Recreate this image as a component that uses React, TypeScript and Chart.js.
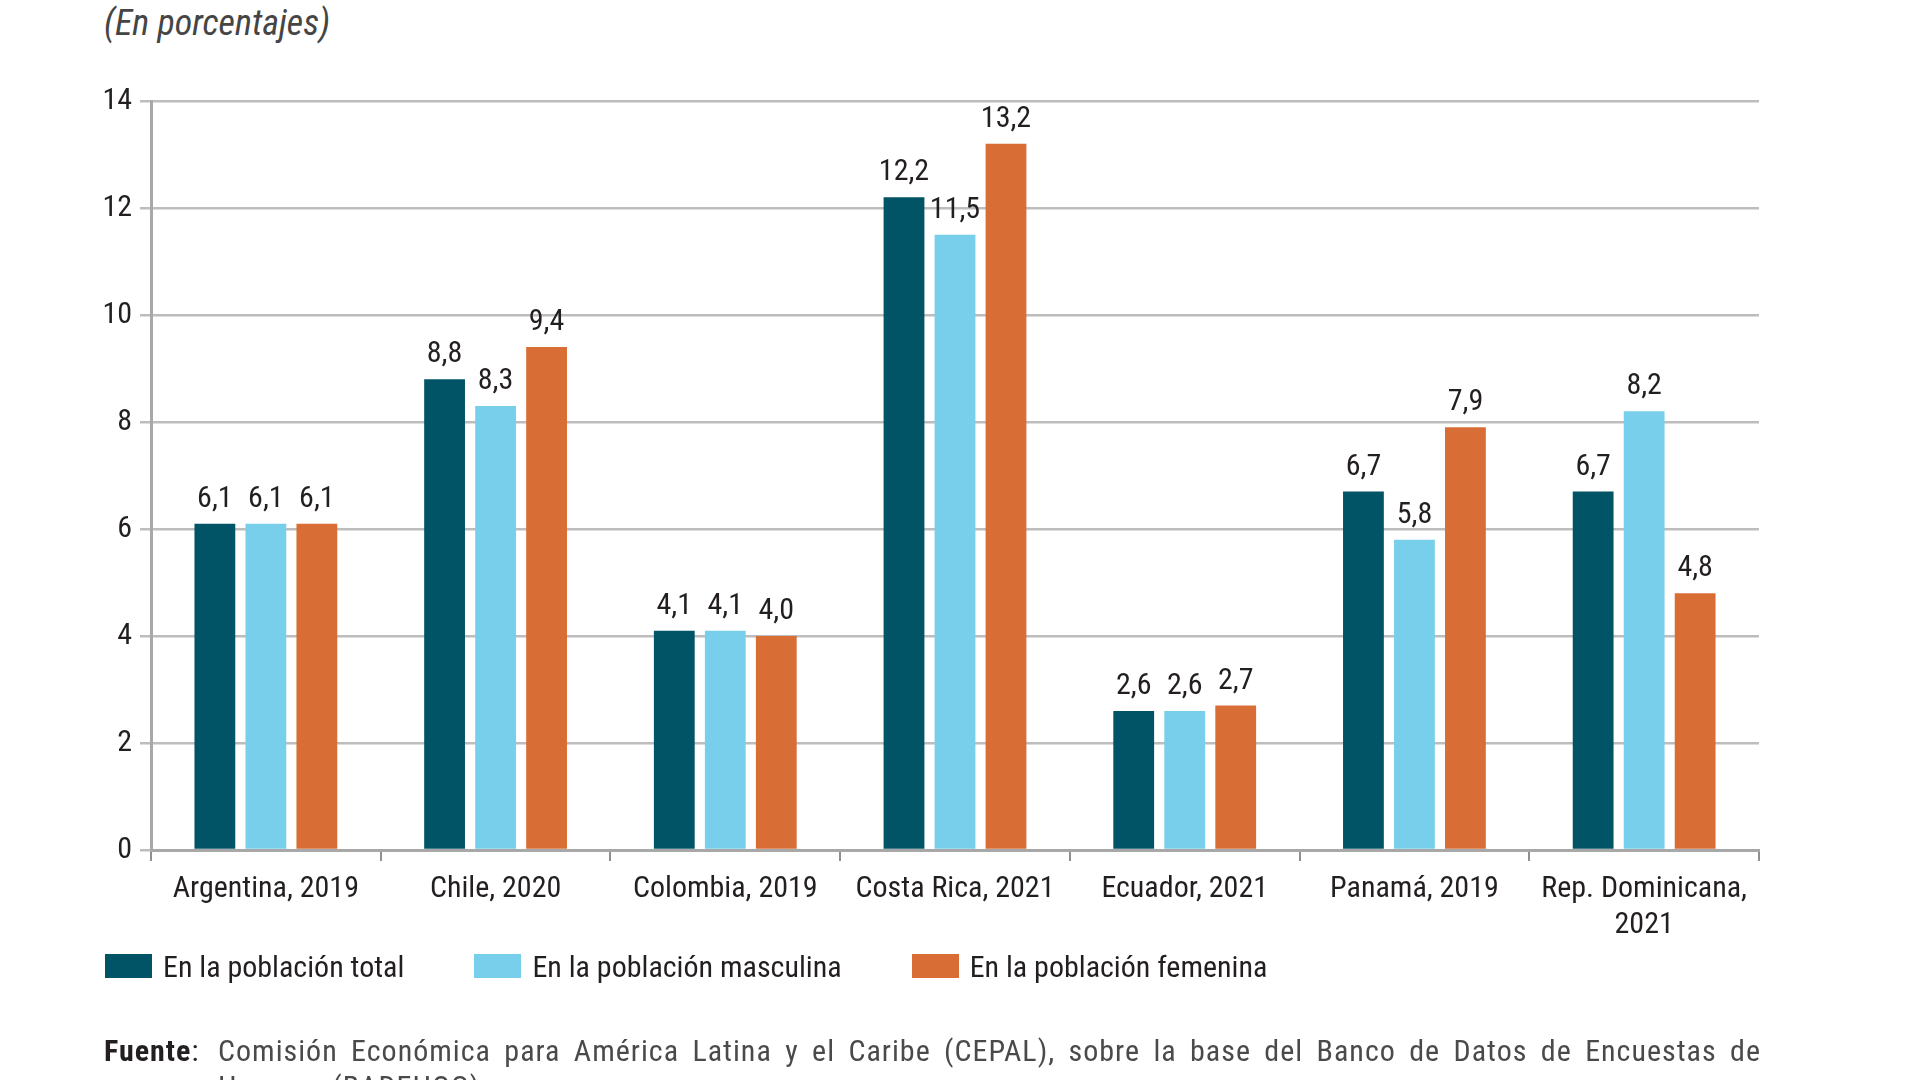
import React, { useEffect, useRef } from "react";
import { Chart, registerables } from "chart.js";

Chart.register(...registerables);

const FONT = "'Roboto Condensed', 'DejaVu Sans Condensed', sans-serif";
const TEXT = "#231F20";

const categories: (string | string[])[] = [
  "Argentina, 2019",
  "Chile, 2020",
  "Colombia, 2019",
  "Costa Rica, 2021",
  "Ecuador, 2021",
  "Panamá, 2019",
  ["Rep. Dominicana,", "2021"],
];

const seriesNames = [
  "En la población total",
  "En la población masculina",
  "En la población femenina",
];

const totalValues = [6.1, 8.8, 4.1, 12.2, 2.6, 6.7, 6.7];
const maleValues = [6.1, 8.3, 4.1, 11.5, 2.6, 5.8, 8.2];
const femaleValues = [6.1, 9.4, 4.0, 13.2, 2.7, 7.9, 4.8];

const seriesColors = ["#005465", "#78CFEC", "#D86E35"];

const yTicks = [0, 2, 4, 6, 8, 10, 12, 14];

const titleText = "(En porcentajes)";
const sourceLabel = "Fuente";
const sourceLine1 =
  "Comisión Económica para América Latina y el Caribe (CEPAL), sobre la base del Banco de Datos de Encuestas de";
const sourceLine2 = "Hogares (BADEHOG).";

const valueLabelPlugin = {
  id: "valueLabels",
  afterDatasetsDraw(chart: any) {
    const ctx = chart.ctx;
    ctx.save();
    ctx.font = `30px ${FONT}`;
    ctx.fillStyle = TEXT;
    ctx.textAlign = "center";
    ctx.textBaseline = "alphabetic";
    chart.data.datasets.forEach((ds: any, i: number) => {
      const meta = chart.getDatasetMeta(i);
      meta.data.forEach((el: any, j: number) => {
        const v = ds.data[j] as number;
        ctx.fillText(v.toFixed(1).replace(".", ","), el.x, el.y - 17);
      });
    });
    ctx.restore();
  },
};

export default function App() {
  const canvasRef = useRef<HTMLCanvasElement | null>(null);

  useEffect(() => {
    if (!canvasRef.current) return;
    Chart.defaults.font.family = FONT;
    const chart = new Chart(canvasRef.current, {
      type: "bar",
      data: {
        labels: categories,
        datasets: [totalValues, maleValues, femaleValues].map((d, i) => ({
          label: seriesNames[i],
          data: d,
          backgroundColor: seriesColors[i],
          borderWidth: 0,
          categoryPercentage: 0.666,
          barPercentage: 0.8,
        })),
      },
      options: {
        responsive: false,
        animation: false,
        devicePixelRatio: 1,
        layout: { padding: { left: 37, top: 101, right: 161, bottom: 130 } },
        plugins: {
          tooltip: { enabled: false },
          title: { display: false },
          legend: { display: false },
        },
        scales: {
          x: {
            offset: true,
            grid: {
              display: true,
              drawOnChartArea: false,
              drawTicks: true,
              tickLength: 11,
              color: "#8f8f8f",
              lineWidth: 2,
              offset: true,
            },
            border: { display: true, color: "#a8a8a8", width: 3 },
            ticks: {
              color: TEXT,
              font: { size: 30, family: FONT },
              padding: 10,
              maxRotation: 0,
              autoSkip: false,
            },
            afterFit(scale: any) {
              scale.height = 100;
            },
          },
          y: {
            min: yTicks[0],
            max: yTicks[yTicks.length - 1],
            afterBuildTicks(scale: any) {
              scale.ticks = yTicks.map((v) => ({ value: v }));
            },
            grid: {
              color: "#bdbdbd",
              lineWidth: 2.5,
              tickLength: 11,
              drawTicks: true,
            },
            border: { display: true, color: "#a8a8a8", width: 3 },
            ticks: {
              color: TEXT,
              font: { size: 30, family: FONT },
              padding: 8,
            },
            afterFit(scale: any) {
              scale.width = 114;
            },
          },
        },
      },
      plugins: [valueLabelPlugin],
    });
    return () => chart.destroy();
  }, []);

  return (
    <div
      style={{
        position: "absolute",
        left: 0,
        top: 0,
        width: 1920,
        height: 1080,
        overflow: "hidden",
        background: "#ffffff",
        fontFamily: FONT,
      }}
    >
      <div
        style={{
          position: "absolute",
          left: 104,
          top: 5,
          fontSize: 36,
          lineHeight: "36px",
          fontStyle: "italic",
          color: "#454545",
          whiteSpace: "nowrap",
        }}
      >
        {titleText}
      </div>
      <canvas
        ref={canvasRef}
        width={1920}
        height={1080}
        style={{ position: "absolute", left: 0, top: 0, width: 1920, height: 1080 }}
      />
      <div
        style={{
          position: "absolute",
          left: 105,
          top: 948,
          height: 36,
          display: "flex",
          alignItems: "center",
          fontSize: 30,
          color: TEXT,
          whiteSpace: "nowrap",
        }}
      >
        {seriesNames.map((name, i) => (
          <div
            key={name}
            style={{ display: "flex", alignItems: "center", marginRight: 70 }}
          >
            <span
              style={{
                display: "inline-block",
                width: 47,
                height: 24,
                background: seriesColors[i],
                marginRight: 11,
              }}
            />
            <span>{name}</span>
          </div>
        ))}
      </div>
      <div
        style={{
          position: "absolute",
          left: 104,
          top: 1033,
          width: 1657,
          fontSize: 30,
          lineHeight: "36px",
          color: "#4a4a4a",
          letterSpacing: "1px",
        }}
      >
        <div style={{ display: "flex" }}>
          <span style={{ width: 114, flex: "none", color: TEXT }}>
            <b>{sourceLabel}</b>:
          </span>
          <span
            style={{
              flex: 1,
              textAlign: "justify",
              textAlignLast: "justify",
              whiteSpace: "normal",
            }}
          >
            {sourceLine1}
          </span>
        </div>
        <div style={{ paddingLeft: 114 }}>{sourceLine2}</div>
      </div>
    </div>
  );
}
